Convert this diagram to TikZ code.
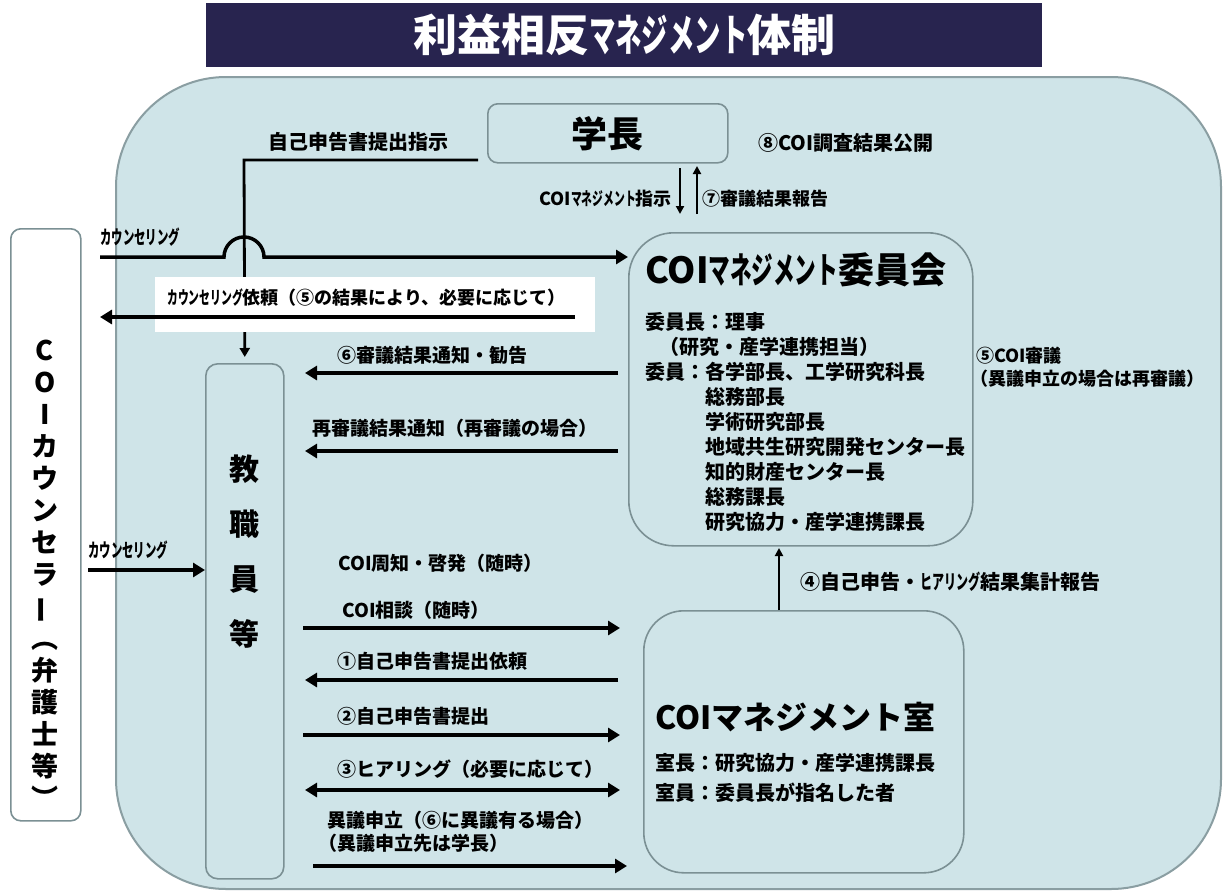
\documentclass[tikz,border=0pt]{standalone}
\usepackage{fontspec}
\setmainfont{Noto Sans CJK JP}
\usetikzlibrary{arrows.meta,calc}
\definecolor{bgblue}{HTML}{CFE4E8}
\definecolor{framegray}{HTML}{8A9EA2}
\definecolor{boxgray}{HTML}{7B9094}
\definecolor{navy}{HTML}{28244F}
\newcommand\jf[1]{\fontsize{#1}{#1}\selectfont\bfseries}
\newcommand\jfl[2]{\fontsize{#1}{#2}\selectfont\bfseries}
\newcommand\hw[1]{\scalebox{0.6}[1]{#1}}
\begin{document}
\begin{tikzpicture}[x=1pt,y=-1pt,
  lbl/.style={font=\jf{19}, inner sep=0pt, anchor=west},
  arr/.style={line width=3.5pt, -{Triangle[length=12pt,width=14pt]}},
  arrb/.style={line width=3.5pt, {Triangle[length=12pt,width=14pt]}-{Triangle[length=12pt,width=14pt]}},
  thinarr/.style={line width=2.2pt, -{Triangle[length=8pt,width=8pt]}},
  box/.style={draw=boxgray, line width=1.6pt, fill=bgblue, inner sep=0pt},
]
\useasboundingbox (0,0) rectangle (1225,891);
\fill[white] (0,0) rectangle (1225,891);

% frame and title
\node[draw=framegray, line width=2pt, fill=bgblue, rounded corners=110pt, minimum width=1105pt, minimum height=812pt, anchor=north west, inner sep=0pt] (frame) at (115,76) {};
\node[fill=navy, text=white, font=\jf{44}, minimum width=836pt, minimum height=64pt, anchor=north west, inner sep=0pt] (title) at (206,3) {利益相反\hw{マネジメント}体制};

% boxes
\node[box, rounded corners=10pt, minimum width=240pt, minimum height=59pt, anchor=north west, font=\jf{36}] (pres) at (487,103) {学長};
\node[draw=boxgray, line width=1.6pt, fill=white, rounded corners=10pt, minimum width=70pt, minimum height=592pt, anchor=north west, inner sep=0pt] (couns) at (10,228) {};
\node[font=\jfl{27}{32}, align=center, inner sep=0pt] (counstext) at (45,574) {C\\O\\I\\カ\\ウ\\ン\\セ\\ラ\\\rotatebox[origin=c]{90}{ー}\\︵\\弁\\護\\士\\等\\︶};
\node[box, rounded corners=12pt, minimum width=78pt, minimum height=515pt, anchor=north west] (staff) at (205,363) {};
\node[font=\jfl{30}{55}, align=center, inner sep=0pt] (stafftext) at (244,552) {教\\職\\員\\等};
\node[box, rounded corners=45pt, minimum width=344pt, minimum height=313pt, anchor=north west] (comm) at (628,232) {};
\node[lbl, font=\jf{36}] (commtitle) at (645,270) {COI\hw{マネジメント}委員会};
\node[font=\jfl{20}{25}, align=left, inner sep=0pt, anchor=north west] (commmembers) at (645,312) {委員長：理事\\\hspace*{14pt}（研究・産学連携担当）\\委員：各学部長、工学研究科長\\\hspace*{3em}総務部長\\\hspace*{3em}学術研究部長\\\hspace*{3em}地域共生研究開発センター長\\\hspace*{3em}知的財産センター長\\\hspace*{3em}総務課長\\\hspace*{3em}研究協力・産学連携課長};
\node[box, rounded corners=40pt, minimum width=320pt, minimum height=262pt, anchor=north west] (office) at (643,610) {};
\node[lbl, font=\jf{32}] (officetitle) at (655,717) {COIマネジメント室};
\node[font=\jfl{20}{30}, align=left, inner sep=0pt, anchor=north west] (officemembers) at (655,753) {室長：研究協力・産学連携課長\\室員：委員長が指名した者};

% instruction line from president down to staff
\coordinate (instStart) at (478,160);
\coordinate (instCorner) at (244,160);
\draw[line width=2.8pt, -{Triangle[length=9pt,width=10pt]}, shorten >=6pt] (instStart) -- (instCorner) -- (staff.north);
\node[lbl, font=\jf{20}] (linst) at (268,142) {自己申告書提出指示};

% counselling to committee with hop
\coordinate (cTop) at (100,257);
\draw[arr] (cTop) -- (224,257) .. controls (224,246) and (233,237) .. (244,237) .. controls (255,237) and (264,246) .. (264,257) -- (comm.west |- cTop);
\node[lbl, font=\jf{19}] (lcTop) at (100,237) {\hw{カウンセリング}};

% white band
\node[fill=white, minimum width=440pt, minimum height=55pt, anchor=north west, inner sep=0pt] (band) at (155,277) {};
\node[lbl, font=\jf{18}] (lband) at (167,298) {\hw{カウンセリング}依頼（⑤の結果により、必要に応じて）};
\coordinate (bandR) at (575,317);
\coordinate (bandL) at (100,317);
\draw[arr] (bandR) -- (bandL);

% president <-> committee
\coordinate (dnTop) at (680,168);
\coordinate (dnBot) at (680,214);
\coordinate (upBot) at (697,214);
\coordinate (upTop) at (697,166);
\draw[thinarr] (dnTop) -- (dnBot);
\draw[thinarr] (upBot) -- (upTop);
\node[lbl, anchor=east, font=\jf{18}] (lmgmt) at (672,199) {COI\hw{マネジメント}指示};
\node[lbl, font=\jf{18}] (l7) at (702,199) {⑦審議結果報告};
\node[lbl, font=\jf{20}] (l8) at (758,143) {⑧COI調査結果公開};
\node[lbl, font=\jf{18}] (l5a) at (976,356) {⑤COI審議};
\node[lbl, font=\jf{18}] (l5b) at (970,379) {（異議申立の場合は再審議）};

% committee -> staff
\coordinate (s6) at (305,373); \coordinate (c6) at (618,373);
\draw[arr] (c6) -- (s6);
\node[lbl] (l6) at (337,355) {⑥審議結果通知・勧告};
\coordinate (sR) at (305,451); \coordinate (cR) at (618,451);
\draw[arr] (cR) -- (sR);
\node[lbl] (lre) at (312,428) {再審議結果通知（再審議の場合）};

% counselling lower
\coordinate (cLow) at (88,570);
\draw[arr] (cLow) -- (staff.west |- cLow);
\node[lbl, font=\jf{19}] (lcLow) at (88,550) {\hw{カウンセリング}};

% staff <-> office
\node[lbl] (lpub) at (338,563) {COI周知・啓発（随時）};
\node[lbl] (lcon) at (342,610) {COI相談（随時）};
\coordinate (sA) at (303,628); \coordinate (oA) at (620,628);
\draw[arr] (sA) -- (oA);
\node[lbl] (l1) at (337,661) {①自己申告書提出依頼};
\coordinate (s1) at (305,680); \coordinate (o1) at (618,680);
\draw[arr] (o1) -- (s1);
\node[lbl] (l2) at (337,716) {②自己申告書提出};
\coordinate (s2) at (303,735); \coordinate (o2) at (620,735);
\draw[arr] (s2) -- (o2);
\node[lbl] (l3) at (337,769) {③ヒアリング（必要に応じて）};
\coordinate (s3) at (305,790); \coordinate (o3) at (620,790);
\draw[arrb] (s3) -- (o3);
\node[lbl] (lobj1) at (327,820) {異議申立（⑥に異議有る場合）};
\node[lbl] (lobj2) at (318,843) {（異議申立先は学長）};
\coordinate (s4) at (313,866); \coordinate (o4) at (627,866);
\draw[arr] (s4) -- (o4);

% office -> committee
\coordinate (o4a) at (779,610);
\coordinate (o4b) at (779,548);
\draw[thinarr] (o4a) -- (o4b);
\node[lbl, font=\jf{20}] (l4) at (800,582) {④自己申告・\hw{ヒアリング}結果集計報告};
\end{tikzpicture}
\end{document}
